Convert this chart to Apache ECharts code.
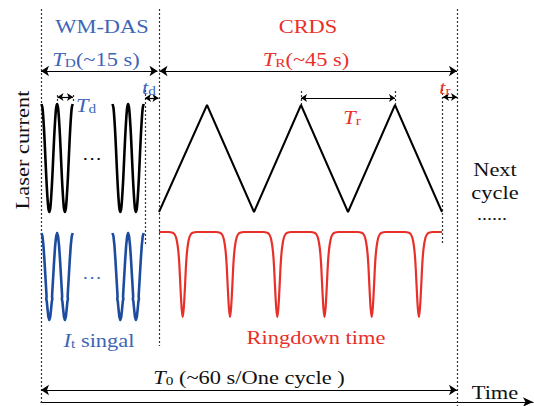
<!DOCTYPE html>
<html><head><meta charset="utf-8">
<script src="https://cdn.jsdelivr.net/npm/echarts@6/dist/echarts.min.js"></script>
<style>html,body{margin:0;padding:0;background:#fff}#c{width:534px;height:406px}</style>
</head><body><div id="c"></div>
<script>
// ---------- data (time axis units = px along the time axis) ----------
// WM-DAS scan groups: start positions, number of periods and one-period profiles [dx, value]
const scanStarts = [41.5, 112.5];
const scanPeriods = 2;
const scanPeriod = 15.6;
const laserScanProfile = [[0,104],[0.98,108],[1.95,120],[2.93,137],[3.9,158],[4.88,179],[5.85,196],[6.83,208],[7.8,212],[8.78,208],[9.75,196],[10.73,179],[11.7,158],[12.68,137],[13.65,120],[14.63,108]];
const transProfile = [[0,233],[0.98,236.3],[1.95,245.7],[2.93,259.9],[3.9,276.5],[4.88,293.1],[5.05,297],[4.75,299],[5.3,301.5],[5.85,307.3],[6.83,316.7],[7.8,320],[8.78,316.7],[9.75,307.3],[10.3,301.5],[10.85,299],[10.55,297],[10.72,293.1],[11.7,276.5],[12.68,259.9],[13.65,245.7],[14.63,236.3]];
const scanEndLaser = 104;
const scanEndTrans = 233;

// CRDS triangular laser ramp (vertices)
const rampX = [159, 207, 254, 301, 348, 395, 442];
const rampY = [212, 105, 212, 105, 212, 105, 212];

// CRDS ringdown signal: baseline, dip centres and dip profile [dx, value]
const ringStart = 159, ringEnd = 442, ringBase = 232;
const ringCentres = [182.7, 230, 277.3, 324.5, 371.7, 418.9];
const dipProfile = [[-14,232],[-10,232.8],[-8,234.5],[-6.5,238],[-5.3,244],[-4.3,252],[-3.4,264],[-2.6,280],[-1.8,296],[-1,309],[0,317],[1,309],[1.8,296],[2.6,280],[3.4,264],[4.3,252],[5.3,244],[6.5,238],[8,234.5],[10,232.8],[14,232]];

// guides: [x, y1, y2] vertical dotted lines
const dottedGuides = [[41,9,404],[159,9,346],[145,90,245],[457,9,406],[442,89,243],[57,95,103],[73,95,103],[301,91,106],[395,91,106]];
// dimension arrows: [x1, x2, y]
const bigArrows = [[41,157.5,71],[159.5,457,71],[41,457,390]];
const smallArrows = [[145,158.5,98],[57.5,73,97],[301,395,98],[443,457,97]];

// ---------- build ----------
const BLACK = '#000', BLUE_T = '#3d65b8', BLUE_L = '#1d4c9f', RED = '#e8302a', FONT = 'Liberation Serif';
const TEXT_STRETCH = 1.18;

function scanData(start, profile, endVal){
  const out = [];
  for (let k = 0; k < scanPeriods; k++) profile.forEach(p => out.push([start + k*scanPeriod + p[0], p[1]]));
  out.push([start + scanPeriods*scanPeriod, endVal]);
  return out;
}
const ringData = [[ringStart, ringBase]];
ringCentres.forEach(c => dipProfile.forEach(p => ringData.push([c + p[0], p[1]])));
ringData.push([ringEnd, ringBase]);

const lineSeries = [];
scanStarts.forEach(s => {
  lineSeries.push({type:'line', data: scanData(s, laserScanProfile, scanEndLaser), symbol:'none', smooth:0.3, lineStyle:{color:BLACK,width:2.6}, z:3, clip:false});
  lineSeries.push({type:'line', data: scanData(s, transProfile, scanEndTrans), symbol:'none', smooth:false, lineStyle:{color:BLUE_L,width:2.6, join:'round'}, z:3, clip:false});
});
lineSeries.push({type:'line', data: rampX.map((x,i)=>[x, rampY[i]]), symbol:'none', lineStyle:{color:BLACK,width:2}, z:3, clip:false});
lineSeries.push({type:'line', data: ringData, symbol:'none', smooth:0.3, lineStyle:{color:RED,width:2.2}, z:3, clip:false});

lineSeries.push({type:'lines', coordinateSystem:'cartesian2d', clip:false, symbol:['none','none'],
  lineStyle:{color:'#333', width:1.2, type:[2,2], opacity:1}, z:2,
  data: dottedGuides.map(g => ({coords:[[g[0],g[1]],[g[0],g[2]]]}))});
lineSeries.push({type:'lines', coordinateSystem:'cartesian2d', clip:false, symbol:['arrow','arrow'], symbolSize:8,
  lineStyle:{color:BLACK, width:1.2, opacity:1}, z:4,
  data: bigArrows.map(a => ({coords:[[a[0],a[2]],[a[1],a[2]]]}))});
lineSeries.push({type:'lines', coordinateSystem:'cartesian2d', clip:false, symbol:['arrow','arrow'], symbolSize:6,
  lineStyle:{color:BLACK, width:1.2, opacity:1}, z:4,
  data: smallArrows.map(a => ({coords:[[a[0],a[2]],[a[1],a[2]]]}))});

function rich(color, size){
  return {
    it:{fontFamily:FONT, fontStyle:'italic', fontSize:size, fill:color, lineHeight:24, verticalAlign:'bottom'},
    rm:{fontFamily:FONT, fontSize:size, fill:color, lineHeight:24, verticalAlign:'bottom'},
    sb:{fontFamily:FONT, fontSize:Math.round(size*0.7), fill:color, lineHeight:11, verticalAlign:'bottom'}
  };
}
function txt(str, x, y, color, size, extra){
  return Object.assign({type:'text', x:x, y:y, z:10, scaleX:TEXT_STRETCH, style:{text:str, rich:rich(color,size), fill:color,
    fontFamily:FONT, fontSize:size, align:'center', verticalAlign:'middle'}}, extra||{});
}
const texts = [
  txt('{rm|WM-DAS}', 102, 24, BLUE_T, 19),
  txt('{rm|CRDS}', 308, 24, RED, 19),
  txt('{it|T}{sb|D}{rm|(~15 s)}', 96, 57, BLUE_T, 19),
  txt('{it|T}{sb|R}{rm|(~45 s)}', 306, 57, RED, 19),
  txt('{it|t}{sb|d}', 149, 85, BLUE_T, 19),
  txt('{it|T}{sb|d}', 86, 103, BLUE_T, 19),
  txt('{it|t}{sb|r}', 445, 85, RED, 19),
  txt('{it|T}{sb|r}', 352, 115, RED, 19),
  txt('{rm|···}', 92, 156, BLACK, 17),
  txt('{rm|···}', 92, 275, BLUE_T, 17),
  txt('{it|I}{sb|t}{rm| singal}', 99, 338, BLUE_T, 19),
  txt('{rm|Ringdown time}', 316, 335, RED, 19),
  txt('{it|T}{sb|0}{rm| (~60 s/One cycle )}', 249, 375, '#111', 19),
  txt('{rm|Time}', 495, 390, '#111', 19),
  txt('{rm|Next}', 495, 167, '#111', 19),
  txt('{rm|cycle}', 495, 190, '#111', 19),
  txt('{rm|......}', 492, 211, '#111', 17),
  txt('{rm|Laser current}', 20, 150, '#111', 19, {rotation: Math.PI/2})
];

const chart = echarts.init(document.getElementById('c'), null, {renderer:'svg'});
chart.setOption({
  animation:false,
  backgroundColor:'#fff',
  grid:{left:41, right:1, top:0, bottom:4},
  xAxis:{type:'value', min:41, max:533, splitLine:{show:false}, axisTick:{show:false}, axisLabel:{show:false},
    axisLine:{show:true, onZero:false, symbol:['none','arrow'], symbolSize:[7,10], lineStyle:{color:BLACK, width:1.2}}},
  yAxis:{type:'value', min:0, max:402, inverse:true, show:false},
  series: lineSeries,
  graphic: texts
});
</script>
</body></html>
